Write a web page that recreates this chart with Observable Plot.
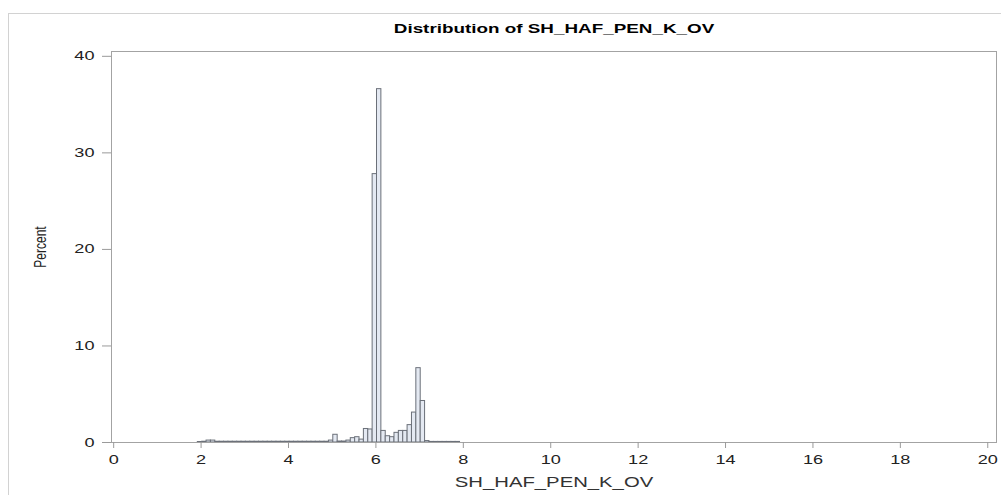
<!DOCTYPE html>
<html>
<head>
<meta charset="utf-8">
<script src="https://cdn.jsdelivr.net/npm/d3@7"></script>
<script src="https://cdn.jsdelivr.net/npm/@observablehq/plot@0.6"></script>
<style>
  html, body { margin: 0; padding: 0; background: #fff; }
  #wrap { position: relative; width: 1001px; height: 495px; overflow: hidden; }
  #border { position: absolute; left: 8px; top: 13px; width: 1010px; height: 500px; border: 1px solid #d2d2d2; box-sizing: border-box; }
  #chart { position: absolute; left: 0; top: 0; }
</style>
</head>
<body>
<div id="wrap"><div id="border"></div><div id="chart"></div></div>
<script>
// Histogram bins: midpoints (units of SH_HAF_PEN_K_OV) and percent
const binMid = [
  1.975, 2.075, 2.175, 2.275, 2.375, 2.475, 2.575, 2.675, 2.775, 2.875,
  2.975, 3.075, 3.175, 3.275, 3.375, 3.475, 3.575, 3.675, 3.775, 3.875,
  3.975, 4.075, 4.175, 4.275, 4.375, 4.475, 4.575, 4.675, 4.775, 4.875,
  4.975, 5.075, 5.175, 5.275, 5.375, 5.475, 5.575, 5.675, 5.775, 5.875,
  5.975, 6.075, 6.175, 6.275, 6.375, 6.475, 6.575, 6.675, 6.775, 6.875,
  6.975, 7.075, 7.175, 7.275, 7.375, 7.475, 7.575, 7.675, 7.775, 7.875
];
const percent = [
  0.05, 0.08, 0.2, 0.2, 0.08, 0.08, 0.08, 0.08, 0.08, 0.08,
  0.08, 0.08, 0.08, 0.08, 0.08, 0.08, 0.08, 0.08, 0.08, 0.08,
  0.08, 0.08, 0.08, 0.08, 0.08, 0.08, 0.08, 0.08, 0.08, 0.08,
  0.2, 0.8, 0.1, 0.1, 0.2, 0.45, 0.55, 0.3, 1.4, 1.35,
  27.8, 36.6, 1.2, 0.65, 0.55, 1.0, 1.2, 1.2, 1.8, 3.1,
  7.7, 4.3, 0.15, 0.06, 0.06, 0.06, 0.06, 0.06, 0.06, 0.06
];
const binWidth = 0.1;
const xTicks = [0, 2, 4, 6, 8, 10, 12, 14, 16, 18, 20];
const yTicks = [0, 10, 20, 30, 40];
const title = "Distribution of SH_HAF_PEN_K_OV";
const xLabel = "SH_HAF_PEN_K_OV";
const yLabel = "Percent";

const bins = binMid.map((m, i) => ({x1: m - binWidth / 2, x2: m + binWidth / 2, y: percent[i]}));

const chart = Plot.plot({
  width: 1001,
  height: 495,
  marginLeft: 111,
  marginRight: 5,
  marginTop: 51,
  marginBottom: 53,
  style: {fontFamily: "'Liberation Sans', Arial, sans-serif", fontSize: "12.5px", color: "#222", background: "transparent"},
  x: {domain: [-0.05, 20.2], ticks: xTicks, tickSize: 6, tickPadding: 7, label: null},
  y: {domain: [0, 40.5], ticks: yTicks, tickSize: 9, tickPadding: 8, label: null},
  marks: [
    Plot.rectY(bins, {x1: "x1", x2: "x2", y: "y", fill: "#e4e9f2", stroke: "#6b7079", strokeWidth: 1}),
    Plot.frame({stroke: "#a3a3a3"}),
    Plot.axisX({ticks: xTicks, tickSize: 6, tickPadding: 7, stroke: "#9a9a9a", label: null}),
    Plot.axisY({ticks: yTicks, tickSize: 9, tickPadding: 8, stroke: "#9a9a9a", label: null}),
    Plot.text([title], {frameAnchor: "top", lineAnchor: "middle", dy: -23, fontWeight: "bold", fontSize: 13, fill: "#000"}),
    Plot.text([xLabel], {frameAnchor: "bottom", lineAnchor: "middle", dy: 40, fontSize: 14, fill: "#333"}),
    Plot.text([yLabel], {frameAnchor: "left", textAnchor: "middle", lineAnchor: "middle", dx: -71, rotate: -90, fontSize: 12, fill: "#222"})
  ]
});

// Reference rendering is horizontally stretched; stretch text glyphs to match.
const SX = 1.45;
chart.querySelectorAll("text").forEach(t => {
  const tr = t.getAttribute("transform");
  if (tr && tr.includes("rotate")) {
    t.setAttribute("transform", tr + " scale(1," + SX + ")");
  } else if (tr) {
    t.setAttribute("transform", tr + " scale(" + SX + ",1)");
  } else {
    const x = +(t.getAttribute("x") || 0);
    t.setAttribute("transform", `translate(${x},0) scale(${SX},1) translate(${-x},0)`);
  }
});

document.getElementById("chart").appendChild(chart);
</script>
</body>
</html>
